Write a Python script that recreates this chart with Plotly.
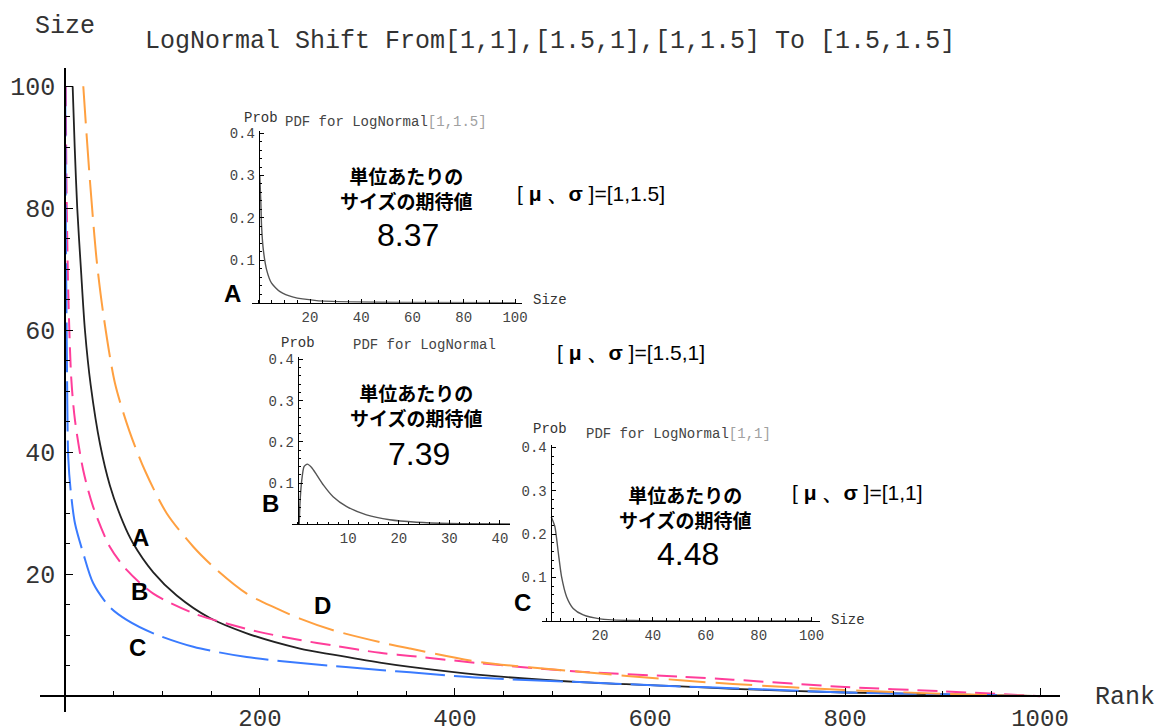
import plotly.graph_objects as go

# ---------------- data ----------------
# main rank-size curves
rank_a = [7.9, 10, 12.6, 16.4, 20.5, 26.4, 36, 46, 59.8, 69.4, 90.6, 114.6, 148.7, 186.4, 241, 275, 323, 354, 425.6, 528, 631, 685, 800, 900, 1000]
size_a = [100, 90, 80, 70, 60, 51, 41.3, 34.6, 28.4, 25.2, 20.3, 16.5, 12.8, 10.3, 7.8, 6.8, 5.5, 4.8, 3.5, 2.3, 1.6, 1.2, 0.6, 0.3, 0]

rank_b = [0.8, 1.7, 3.4, 6.5, 10.3, 18.8, 29, 46, 63.3, 90.6, 131.6, 165.8, 200, 241, 275, 323, 354, 425.6, 528, 631, 685, 800, 900, 1000]
size_b = [100, 82, 66, 52, 45.2, 37.0, 31.0, 24.5, 20.7, 16.8, 13.6, 11.9, 10.5, 9.2, 8.3, 7.1, 6.6, 5.4, 4.0, 3.2, 2.7, 1.5, 0.8, 0]

rank_c = [0.3, 1.0, 2.0, 3.4, 6.0, 10.3, 18.8, 29, 46, 63.3, 90.6, 131.6, 186.4, 258, 323, 354, 425.6, 528, 631, 685, 800, 900, 1000]
size_c = [100, 75, 55, 39, 33.5, 28.3, 23.4, 18.5, 14.6, 12.5, 10.3, 8.1, 6.4, 5.2, 4.3, 3.9, 3.0, 2.3, 1.6, 1.3, 0.6, 0.3, 0]

rank_d = [18.8, 24.9, 32.5, 39.3, 51.3, 66, 82, 104.3, 131.6, 155.6, 186.4, 217, 241, 275, 330, 354, 425.6, 528, 631, 685, 800, 900, 1000]
size_d = [100, 86, 71.5, 62.7, 51.3, 43.5, 37.0, 30.0, 24.5, 20.7, 16.8, 14.4, 12.7, 10.8, 8.6, 7.8, 5.6, 4.0, 2.6, 2.0, 1.0, 0.4, 0]

# inset PDFs
pdf_a_x = [0.4, 0.8, 1.1, 1.8, 3.1, 5.0, 8.3, 13.5, 22.6, 35.6, 55, 100]
pdf_a_p = [0.30, 0.24, 0.18, 0.124, 0.077, 0.046, 0.026, 0.013, 0.005, 0.002, 0.0005, 0]

pdf_b_x = [0.3, 0.45, 0.8, 1.25, 1.9, 2.75, 3.75, 5.1, 7.0, 9.7, 13.6, 18.2, 23.5, 30, 42]
pdf_b_p = [0, 0.051, 0.107, 0.140, 0.146, 0.138, 0.12, 0.095, 0.067, 0.043, 0.023, 0.011, 0.005, 0.002, 0.001]

pdf_c_x = [1.6, 3.0, 4.3, 5.5, 7.4, 9.9, 13.7, 20, 32.6, 100]
pdf_c_p = [0.240, 0.217, 0.156, 0.102, 0.056, 0.029, 0.014, 0.005, 0.001, 0]

# ticks
main_xticks = [200, 400, 600, 800, 1000]
main_yticks = [20, 40, 60, 80, 100]
inset_wide_xticks = [20, 40, 60, 80, 100]
inset_b_xticks = [10, 20, 30, 40]
inset_yticks = [0.1, 0.2, 0.3, 0.4]

expect_a, expect_b, expect_c = "8.37", "7.39", "4.48"
param_a, param_b, param_c = "[1,1.5]", "[1.5,1]", "[1,1]"

# ---------------- layout helpers ----------------
W, H = 1157, 727
ML, MR, MT, MB = 40, 97, 68, 15
PW, PH = W - ML - MR, H - MT - MB


def fx(px):
    return (px - ML) / PW


def fy(py):
    return (H - MB - py) / PH


MONO = "Liberation Mono, Courier New, monospace"
SANS = "Liberation Sans, Arial, sans-serif"
CJK = "Noto Sans CJK JP, sans-serif"

fig = go.Figure()

SM = 0.8
# main curves
fig.add_trace(go.Scatter(x=rank_a, y=size_a, mode="lines", line=dict(color="#222222", width=1.8, shape="spline", smoothing=SM),
                         xaxis="x", yaxis="y"))
fig.add_trace(go.Scatter(x=rank_b, y=size_b, mode="lines", line=dict(color="#FF3D9A", width=2, dash="20px,9px", shape="spline", smoothing=SM),
                         xaxis="x", yaxis="y"))
fig.add_trace(go.Scatter(x=rank_c, y=size_c, mode="lines", line=dict(color="#3A7BFF", width=2, dash="50px,9px", shape="spline", smoothing=SM),
                         xaxis="x", yaxis="y"))
fig.add_trace(go.Scatter(x=rank_d, y=size_d, mode="lines", line=dict(color="#FFA040", width=2, dash="37px,10px", shape="spline", smoothing=SM),
                         xaxis="x", yaxis="y"))

# insets
fig.add_trace(go.Scatter(x=pdf_a_x, y=pdf_a_p, mode="lines", line=dict(color="#555555", width=1.4, shape="spline", smoothing=0.6),
                         xaxis="x2", yaxis="y2"))
fig.add_trace(go.Scatter(x=pdf_b_x, y=pdf_b_p, mode="lines", line=dict(color="#555555", width=1.4, shape="spline", smoothing=0.6),
                         xaxis="x3", yaxis="y3"))
fig.add_trace(go.Scatter(x=pdf_c_x, y=pdf_c_p, mode="lines", line=dict(color="#555555", width=1.4, shape="spline", smoothing=0.6),
                         xaxis="x4", yaxis="y4"))

# main axes
MX = [-25.6, 1020.5]
MY = [-2.6, 103.0]


def free_pos(d, r, v=0.0):
    return d[0] + (v - r[0]) / (r[1] - r[0]) * (d[1] - d[0])


tickfont_main = dict(family=MONO, size=25, color="#333333")
tickfont_in = dict(family=MONO, size=14, color="#444444")

layout = dict(
    width=W, height=H,
    margin=dict(l=ML, r=MR, t=MT, b=MB, pad=0, autoexpand=False),
    paper_bgcolor="white", plot_bgcolor="white",
    showlegend=False,
    xaxis=dict(domain=[0, 1], range=MX, anchor="free", position=free_pos([0, 1], MY), showline=True, linecolor="black", linewidth=1.5,
               showgrid=False, zeroline=False, automargin=False, tickmode="array", tickvals=main_xticks, ticks="inside", ticklen=7,
               tickwidth=1.3, tickcolor="black", tickfont=dict(family=MONO, size=24, color="#333333"), ticklabelstandoff=0,
               minor=dict(dtick=50, tick0=0, ticks="inside", ticklen=4, tickwidth=1, tickcolor="black")),
    yaxis=dict(domain=[0, 1], range=MY, anchor="free", position=free_pos([0, 1], MX), showline=True, linecolor="black", linewidth=1.5,
               showgrid=False, zeroline=False, automargin=False, tickmode="array", tickvals=main_yticks, ticks="inside", ticklen=7,
               tickwidth=1.3, tickcolor="black", tickfont=tickfont_main, ticklabelstandoff=4,
               minor=dict(dtick=5, tick0=0, ticks="inside", ticklen=4, tickwidth=1, tickcolor="black")),
)

insets = [
    # name, xdom px, xrange, ydom px (bottom, top), yrange, xticks, xminor, y-axis x value
    ("2", (251.7, 521.7), [-2.75, 102.6], (302.7, 131.0), [0, 0.405], inset_wide_xticks, 5, 0.0),
    ("3", (291.7, 510.0), [-1.19, 42.0], (524.3, 357.4), [0, 0.405], inset_b_xticks, 2, 0.0),
    ("4", (541.7, 820.0), [-2.0, 103.2], (621.0, 445.2), [0, 0.405], inset_wide_xticks, 5, 1.4),
]
for n, xd, xr, yd, yr, xt, xm, y0 in insets:
    xdom = [fx(xd[0]), fx(xd[1])]
    ydom = [fy(yd[0]), fy(yd[1])]
    layout["xaxis" + n] = dict(domain=xdom, range=xr, anchor="y" + n, showline=True, linecolor="black", linewidth=1.2,
                               showgrid=False, zeroline=False, automargin=False, tickmode="array", tickvals=xt, ticks="inside",
                               ticklen=4, tickwidth=1, tickcolor="black", tickfont=tickfont_in, ticklabelstandoff=1,
                               minor=dict(dtick=xm, tick0=0, ticks="inside", ticklen=2.5, tickwidth=0.8, tickcolor="black"))
    layout["yaxis" + n] = dict(domain=ydom, range=yr, anchor="free", position=free_pos(xdom, xr, y0), showline=True,
                               linecolor="black", linewidth=1.2, showgrid=False, zeroline=False, automargin=False,
                               tickmode="array", tickvals=inset_yticks, tickformat=".1f", ticks="inside", ticklen=4,
                               tickwidth=1, tickcolor="black", tickfont=tickfont_in, ticklabelstandoff=1,
                               minor=dict(dtick=0.02, tick0=0, ticks="inside", ticklen=2.5, tickwidth=0.8, tickcolor="black"))

fig.update_layout(**layout)

ann = []


def add(text, px, py, family, size, color="black", xanchor="center"):
    ann.append(dict(text=text, x=fx(px), y=fy(py), xref="paper", yref="paper", showarrow=False, align="center",
                    xanchor=xanchor, yanchor="middle", font=dict(family=family, size=size, color=color)))


# titles and axis labels
add("LogNormal Shift From[1,1],[1.5,1],[1,1.5] To [1.5,1.5]", 550, 42, MONO, 25, "#333333")
add("Size", 65, 27, MONO, 25, "#333333")
add("Rank", 1125, 697, MONO, 25, "#333333")

# main curve letters
add("<b>A</b>", 140, 537, SANS, 24)
add("<b>B</b>", 139.5, 591, SANS, 24)
add("<b>C</b>", 137.5, 647, SANS, 24)
add("<b>D</b>", 322.7, 605, SANS, 24)

# inset labels
add("Prob", 260.5, 118, MONO, 14, "#333333")
add("PDF for LogNormal<span style='color:#a0a0a0'>" + param_a + "</span>", 386, 122, MONO, 14, "#444444")
add("Size", 550, 300, MONO, 14, "#333333")
add("<b>A</b>", 232, 293, SANS, 24)

add("Prob", 298, 343, MONO, 14, "#333333")
add("PDF for LogNormal", 424, 345, MONO, 14, "#444444")
add("<b>B</b>", 270.5, 503, SANS, 24)

add("Prob", 550, 429, MONO, 14, "#333333")
add("PDF for LogNormal<span style='color:#a0a0a0'>" + param_c + "</span>", 678, 434, MONO, 14, "#444444")
add("Size", 848, 620, MONO, 14, "#333333")
add("<b>C</b>", 522, 602, SANS, 24)

# Japanese text blocks (two lines each) and expected values
for (blk, num_pos, num) in [((406, 188), (408, 235), expect_a),
                            ((415.5, 405), (419, 454), expect_b),
                            ((685, 507), (687.5, 554), expect_c)]:
    add("<b>単位あたりの<br>サイズの期待値</b>", blk[0], blk[1], CJK, 19)
    add(num, num_pos[0], num_pos[1], SANS, 32)

# parameter labels
for (px, py, p) in [(591, 193, param_a), (631, 352, param_b), (857, 492, param_c)]:
    add("[ <b>μ</b> <b>、σ</b> ]=" + p, px, py, SANS, 21)

fig.update_layout(annotations=ann)

fig.write_html("out.html")
